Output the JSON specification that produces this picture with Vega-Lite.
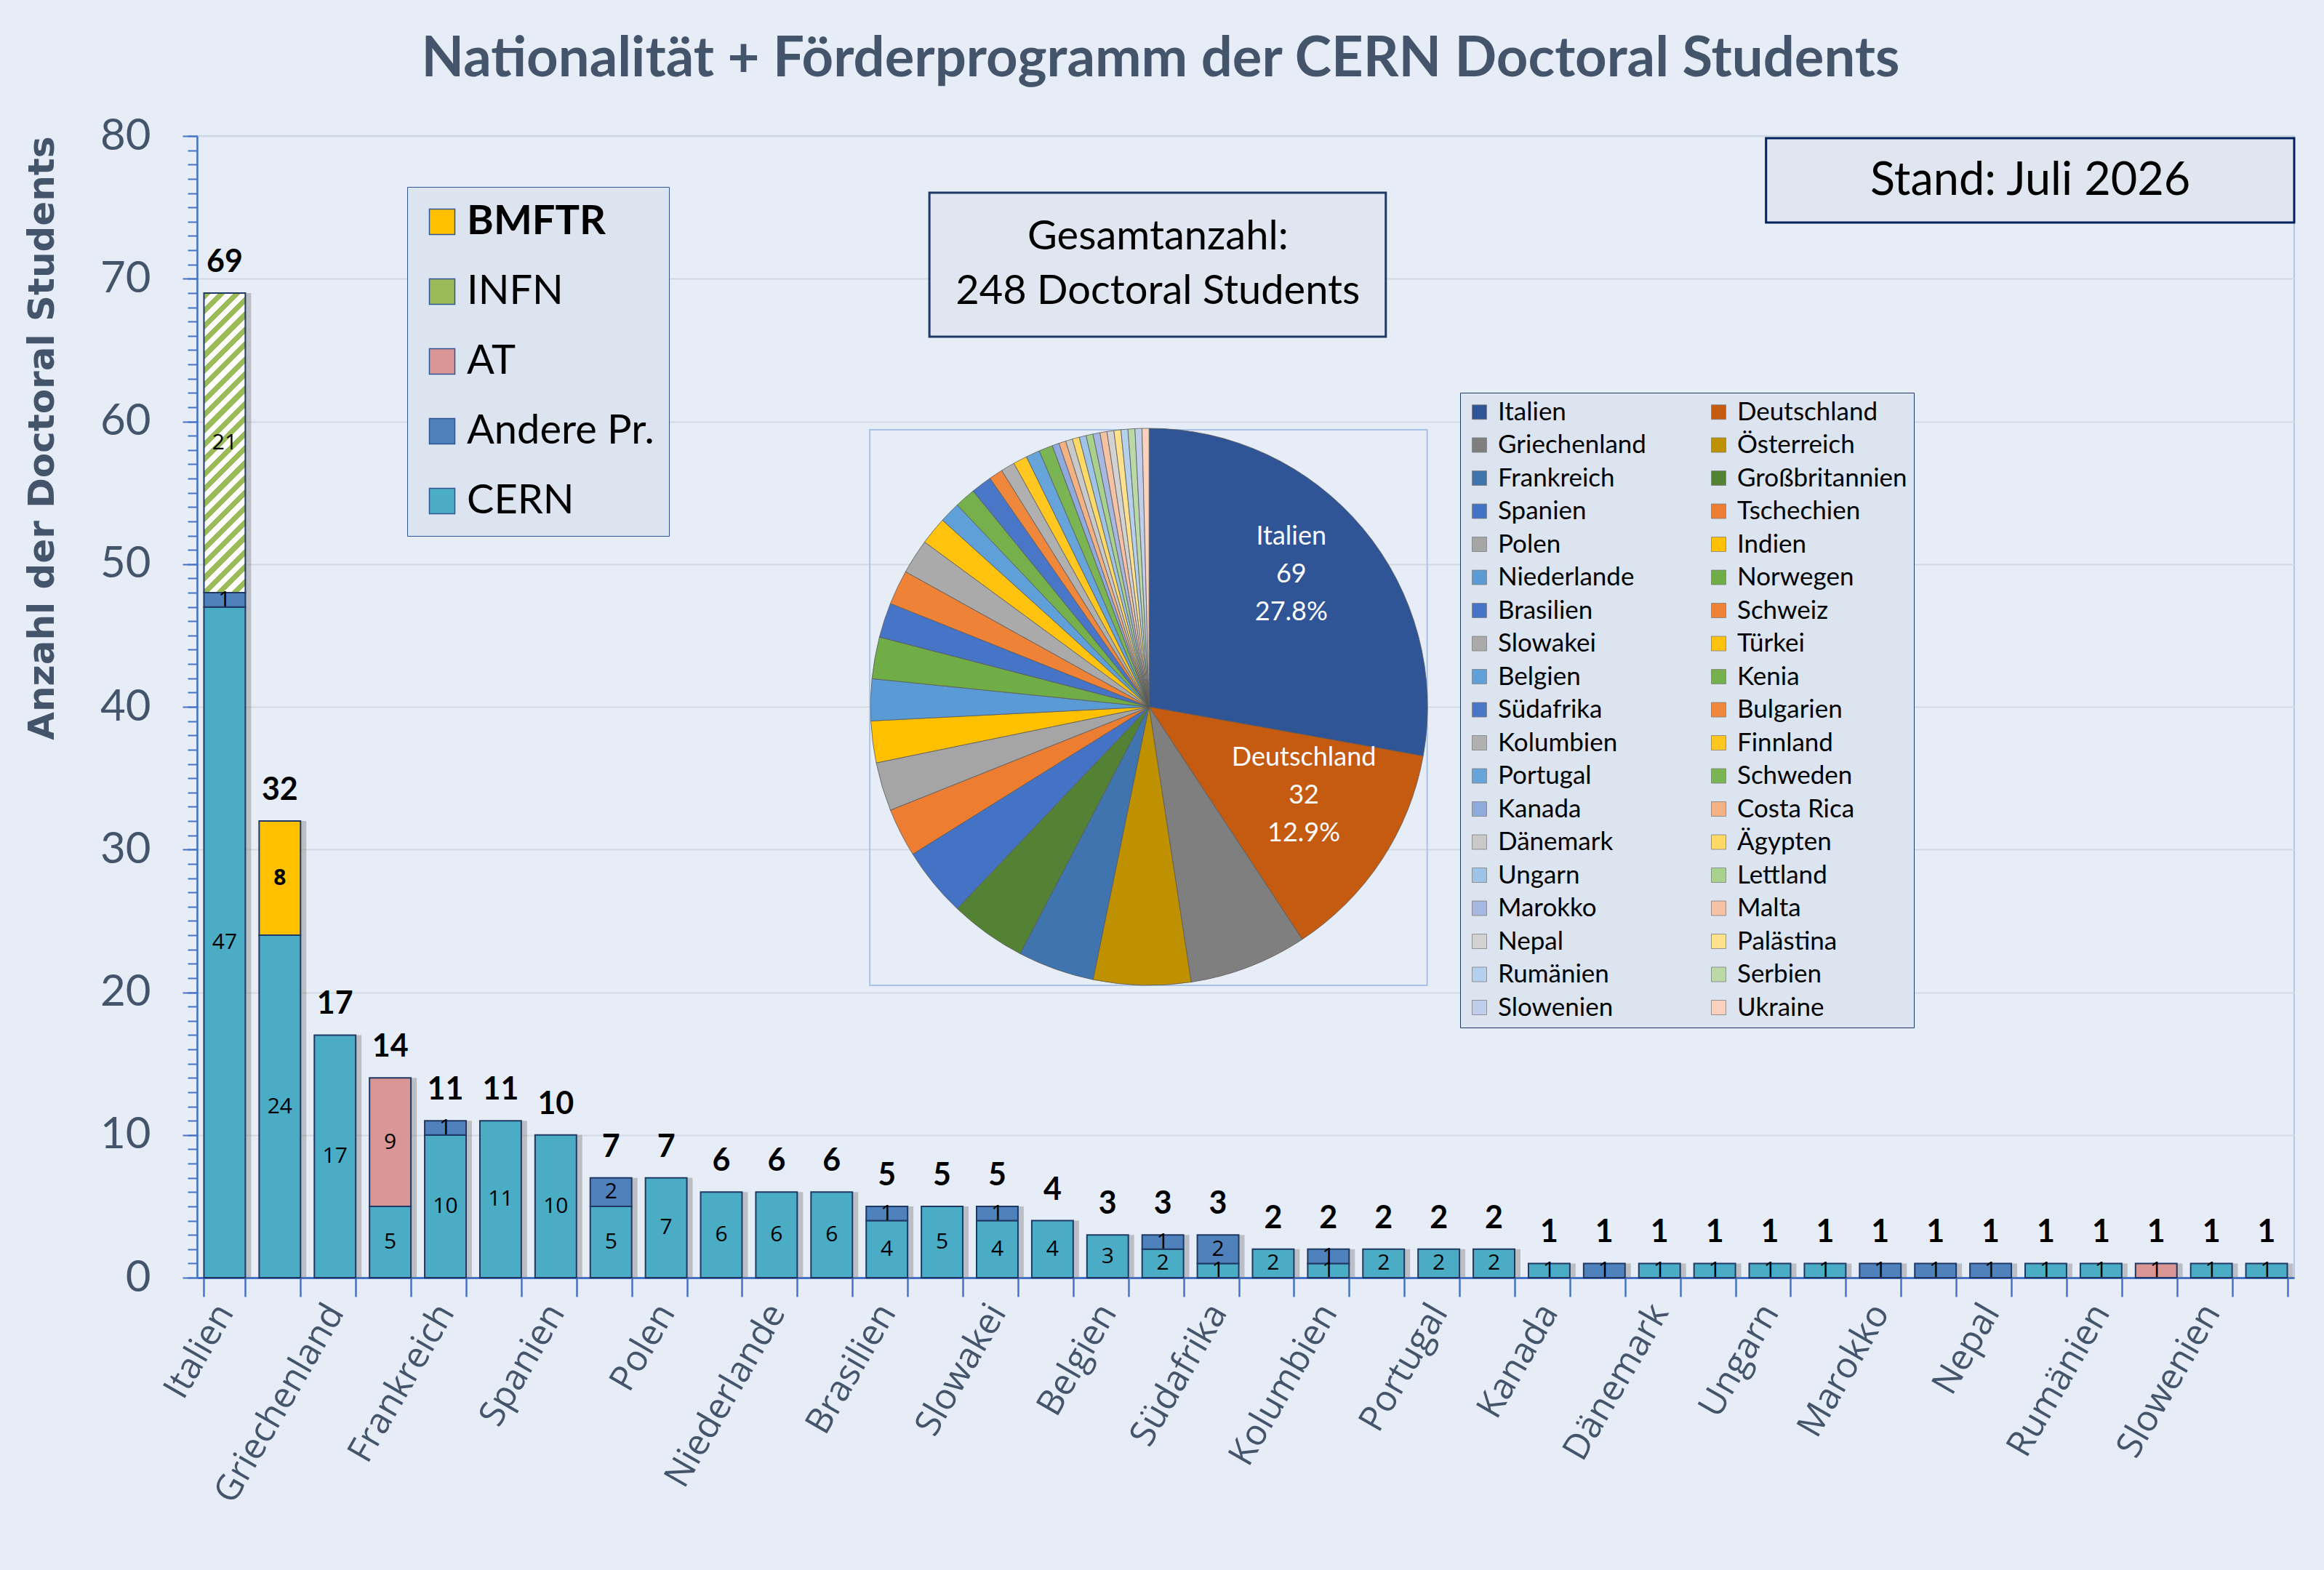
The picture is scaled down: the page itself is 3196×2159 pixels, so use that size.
{
  "$schema": "https://vega.github.io/schema/vega-lite/v6.json",
  "width": 2884,
  "height": 1570,
  "autosize": {"type": "none"},
  "padding": {"left": 271, "top": 187, "right": 41, "bottom": 402},
  "background": "#E7EDF7",
  "title": {
    "text": "Nationalität + Förderprogramm der CERN Doctoral Students",
    "font": "Lato",
    "fontSize": 76,
    "fontWeight": "bold",
    "color": "#44546A",
    "anchor": "middle",
    "frame": "group",
    "dx": -117,
    "offset": 36
  },
  "data": {
    "values": [
      {"country": "Italien", "program": "CERN", "n": 47},
      {"country": "Italien", "program": "Andere Pr.", "n": 1},
      {"country": "Italien", "program": "INFN", "n": 21},
      {"country": "Deutschland", "program": "CERN", "n": 24},
      {"country": "Deutschland", "program": "BMFTR", "n": 8},
      {"country": "Griechenland", "program": "CERN", "n": 17},
      {"country": "Österreich", "program": "CERN", "n": 5},
      {"country": "Österreich", "program": "AT", "n": 9},
      {"country": "Frankreich", "program": "CERN", "n": 10},
      {"country": "Frankreich", "program": "Andere Pr.", "n": 1},
      {"country": "Großbritannien", "program": "CERN", "n": 11},
      {"country": "Spanien", "program": "CERN", "n": 10},
      {"country": "Tschechien", "program": "CERN", "n": 5},
      {"country": "Tschechien", "program": "Andere Pr.", "n": 2},
      {"country": "Polen", "program": "CERN", "n": 7},
      {"country": "Indien", "program": "CERN", "n": 6},
      {"country": "Niederlande", "program": "CERN", "n": 6},
      {"country": "Norwegen", "program": "CERN", "n": 6},
      {"country": "Brasilien", "program": "CERN", "n": 4},
      {"country": "Brasilien", "program": "Andere Pr.", "n": 1},
      {"country": "Schweiz", "program": "CERN", "n": 5},
      {"country": "Slowakei", "program": "CERN", "n": 4},
      {"country": "Slowakei", "program": "Andere Pr.", "n": 1},
      {"country": "Türkei", "program": "CERN", "n": 4},
      {"country": "Belgien", "program": "CERN", "n": 3},
      {"country": "Kenia", "program": "CERN", "n": 2},
      {"country": "Kenia", "program": "Andere Pr.", "n": 1},
      {"country": "Südafrika", "program": "CERN", "n": 1},
      {"country": "Südafrika", "program": "Andere Pr.", "n": 2},
      {"country": "Bulgarien", "program": "CERN", "n": 2},
      {"country": "Kolumbien", "program": "CERN", "n": 1},
      {"country": "Kolumbien", "program": "Andere Pr.", "n": 1},
      {"country": "Finnland", "program": "CERN", "n": 2},
      {"country": "Portugal", "program": "CERN", "n": 2},
      {"country": "Schweden", "program": "CERN", "n": 2},
      {"country": "Kanada", "program": "CERN", "n": 1},
      {"country": "Costa Rica", "program": "Andere Pr.", "n": 1},
      {"country": "Dänemark", "program": "CERN", "n": 1},
      {"country": "Ägypten", "program": "CERN", "n": 1},
      {"country": "Ungarn", "program": "CERN", "n": 1},
      {"country": "Lettland", "program": "CERN", "n": 1},
      {"country": "Marokko", "program": "Andere Pr.", "n": 1},
      {"country": "Malta", "program": "Andere Pr.", "n": 1},
      {"country": "Nepal", "program": "Andere Pr.", "n": 1},
      {"country": "Palästina", "program": "CERN", "n": 1},
      {"country": "Rumänien", "program": "CERN", "n": 1},
      {"country": "Serbien", "program": "AT", "n": 1},
      {"country": "Slowenien", "program": "CERN", "n": 1},
      {"country": "Ukraine", "program": "CERN", "n": 1}
    ]
  },
  "layer": [
    {
      "transform": [
        {"calculate": "indexof(['CERN','Andere Pr.','AT','INFN','BMFTR'], datum.program)", "as": "rank"},
        {"stack": "n", "groupby": ["country"], "sort": [{"field": "rank"}], "as": ["y0", "y1"]},
        {"calculate": "(datum.y0 + datum.y1) / 2", "as": "ym"},
        {"joinaggregate": [{"op": "sum", "field": "n", "as": "total"}], "groupby": ["country"]}
      ],
      "encoding": {
        "x": {
          "field": "country",
          "type": "nominal",
          "sort": null,
          "scale": {
            "domain": ["Italien","Deutschland","Griechenland","Österreich","Frankreich","Großbritannien","Spanien","Tschechien","Polen","Indien","Niederlande","Norwegen","Brasilien","Schweiz","Slowakei","Türkei","Belgien","Kenia","Südafrika","Bulgarien","Kolumbien","Finnland","Portugal","Schweden","Kanada","Costa Rica","Dänemark","Ägypten","Ungarn","Lettland","Marokko","Malta","Nepal","Palästina","Rumänien","Serbien","Slowenien","Ukraine"],
            "paddingInner": 0.25,
            "paddingOuter": 0.125
          },
          "axis": {
            "title": null,
            "labelAngle": -60,
            "labelFont": "Open Sans",
            "labelFontSize": 49,
            "labelColor": "#44546A",
            "labelPadding": 14,
            "labelOverlap": false,
            "labelLimit": 600,
            "labelExpr": "round(datum.index * 37) % 2 === 0 ? datum.label : ''",
            "tickBand": "extent",
            "tickSize": 26,
            "tickColor": "#4472C4",
            "tickWidth": 2.5,
            "domainColor": "#4472C4",
            "domainWidth": 3,
            "grid": false
          }
        }
      },
      "layer": [
        {
          "mark": {"type": "bar", "color": "#7A7A7A", "opacity": 0.4, "xOffset": 8},
          "encoding": {
            "y": {
              "field": "y0",
              "type": "quantitative",
              "scale": {"domain": [0, 80], "nice": false},
              "axis": {
                "orient": "left",
                "title": null,
                "values": [0,1,2,3,4,5,6,7,8,9,10,11,12,13,14,15,16,17,18,19,20,21,22,23,24,25,26,27,28,29,30,31,32,33,34,35,36,37,38,39,40,41,42,43,44,45,46,47,48,49,50,51,52,53,54,55,56,57,58,59,60,61,62,63,64,65,66,67,68,69,70,71,72,73,74,75,76,77,78,79,80],
                "labels": false,
                "grid": false,
                "domain": false,
                "tickSize": 13,
                "tickColor": "#4472C4",
                "tickWidth": 2
              }
            },
            "y2": {"field": "y1"}
          }
        },
        {
          "mark": {"type": "bar", "stroke": "#1F3864", "strokeWidth": 2},
          "encoding": {
            "y": {
              "field": "y0",
              "type": "quantitative",
              "scale": {"domain": [0, 80], "nice": false},
              "axis": {
                "orient": "left",
                "title": "Anzahl der Doctoral Students",
                "titleFont": "DejaVu Sans",
                "titleFontSize": 50,
                "titleFontWeight": "bold",
                "titleColor": "#44546A",
                "titleAnchor": "end",
                "titlePadding": 54,
                "values": [0, 10, 20, 30, 40, 50, 60, 70, 80],
                "labelFont": "Lato",
                "labelFontSize": 60,
                "labelColor": "#44546A",
                "labelPadding": 44,
                "tickSize": 20,
                "tickColor": "#4472C4",
                "tickWidth": 2,
                "domainColor": "#4472C4",
                "domainWidth": 2.5,
                "grid": true,
                "gridColor": "#D3D9E2",
                "gridWidth": 2
              }
            },
            "y2": {"field": "y1"},
            "color": {
              "condition": {
                "test": "datum.program === 'INFN'",
                "value": {
                  "gradient": "linear",
                  "x1": 0, "y1": 0, "x2": 0.1542, "y2": 1.1168,
                  "stops": [
                    {"offset": 0, "color": "#9BBB59"}, {"offset": 0.0217, "color": "#9BBB59"}, {"offset": 0.0217, "color": "#FFFFFF"}, {"offset": 0.0435, "color": "#FFFFFF"},
                    {"offset": 0.0435, "color": "#9BBB59"}, {"offset": 0.0652, "color": "#9BBB59"}, {"offset": 0.0652, "color": "#FFFFFF"}, {"offset": 0.0870, "color": "#FFFFFF"},
                    {"offset": 0.0870, "color": "#9BBB59"}, {"offset": 0.1087, "color": "#9BBB59"}, {"offset": 0.1087, "color": "#FFFFFF"}, {"offset": 0.1304, "color": "#FFFFFF"},
                    {"offset": 0.1304, "color": "#9BBB59"}, {"offset": 0.1522, "color": "#9BBB59"}, {"offset": 0.1522, "color": "#FFFFFF"}, {"offset": 0.1739, "color": "#FFFFFF"},
                    {"offset": 0.1739, "color": "#9BBB59"}, {"offset": 0.1957, "color": "#9BBB59"}, {"offset": 0.1957, "color": "#FFFFFF"}, {"offset": 0.2174, "color": "#FFFFFF"},
                    {"offset": 0.2174, "color": "#9BBB59"}, {"offset": 0.2391, "color": "#9BBB59"}, {"offset": 0.2391, "color": "#FFFFFF"}, {"offset": 0.2609, "color": "#FFFFFF"},
                    {"offset": 0.2609, "color": "#9BBB59"}, {"offset": 0.2826, "color": "#9BBB59"}, {"offset": 0.2826, "color": "#FFFFFF"}, {"offset": 0.3043, "color": "#FFFFFF"},
                    {"offset": 0.3043, "color": "#9BBB59"}, {"offset": 0.3261, "color": "#9BBB59"}, {"offset": 0.3261, "color": "#FFFFFF"}, {"offset": 0.3478, "color": "#FFFFFF"},
                    {"offset": 0.3478, "color": "#9BBB59"}, {"offset": 0.3696, "color": "#9BBB59"}, {"offset": 0.3696, "color": "#FFFFFF"}, {"offset": 0.3913, "color": "#FFFFFF"},
                    {"offset": 0.3913, "color": "#9BBB59"}, {"offset": 0.4130, "color": "#9BBB59"}, {"offset": 0.4130, "color": "#FFFFFF"}, {"offset": 0.4348, "color": "#FFFFFF"},
                    {"offset": 0.4348, "color": "#9BBB59"}, {"offset": 0.4565, "color": "#9BBB59"}, {"offset": 0.4565, "color": "#FFFFFF"}, {"offset": 0.4783, "color": "#FFFFFF"},
                    {"offset": 0.4783, "color": "#9BBB59"}, {"offset": 0.5000, "color": "#9BBB59"}, {"offset": 0.5000, "color": "#FFFFFF"}, {"offset": 0.5217, "color": "#FFFFFF"},
                    {"offset": 0.5217, "color": "#9BBB59"}, {"offset": 0.5435, "color": "#9BBB59"}, {"offset": 0.5435, "color": "#FFFFFF"}, {"offset": 0.5652, "color": "#FFFFFF"},
                    {"offset": 0.5652, "color": "#9BBB59"}, {"offset": 0.5870, "color": "#9BBB59"}, {"offset": 0.5870, "color": "#FFFFFF"}, {"offset": 0.6087, "color": "#FFFFFF"},
                    {"offset": 0.6087, "color": "#9BBB59"}, {"offset": 0.6304, "color": "#9BBB59"}, {"offset": 0.6304, "color": "#FFFFFF"}, {"offset": 0.6522, "color": "#FFFFFF"},
                    {"offset": 0.6522, "color": "#9BBB59"}, {"offset": 0.6739, "color": "#9BBB59"}, {"offset": 0.6739, "color": "#FFFFFF"}, {"offset": 0.6957, "color": "#FFFFFF"},
                    {"offset": 0.6957, "color": "#9BBB59"}, {"offset": 0.7174, "color": "#9BBB59"}, {"offset": 0.7174, "color": "#FFFFFF"}, {"offset": 0.7391, "color": "#FFFFFF"},
                    {"offset": 0.7391, "color": "#9BBB59"}, {"offset": 0.7609, "color": "#9BBB59"}, {"offset": 0.7609, "color": "#FFFFFF"}, {"offset": 0.7826, "color": "#FFFFFF"},
                    {"offset": 0.7826, "color": "#9BBB59"}, {"offset": 0.8043, "color": "#9BBB59"}, {"offset": 0.8043, "color": "#FFFFFF"}, {"offset": 0.8261, "color": "#FFFFFF"},
                    {"offset": 0.8261, "color": "#9BBB59"}, {"offset": 0.8478, "color": "#9BBB59"}, {"offset": 0.8478, "color": "#FFFFFF"}, {"offset": 0.8696, "color": "#FFFFFF"},
                    {"offset": 0.8696, "color": "#9BBB59"}, {"offset": 0.8913, "color": "#9BBB59"}, {"offset": 0.8913, "color": "#FFFFFF"}, {"offset": 0.9130, "color": "#FFFFFF"},
                    {"offset": 0.9130, "color": "#9BBB59"}, {"offset": 0.9348, "color": "#9BBB59"}, {"offset": 0.9348, "color": "#FFFFFF"}, {"offset": 0.9565, "color": "#FFFFFF"},
                    {"offset": 0.9565, "color": "#9BBB59"}, {"offset": 0.9783, "color": "#9BBB59"}, {"offset": 0.9783, "color": "#FFFFFF"}, {"offset": 1, "color": "#FFFFFF"}
                  ]
                }
              },
              "field": "program",
              "type": "nominal",
              "scale": {
                "domain": ["BMFTR", "INFN", "AT", "Andere Pr.", "CERN"],
                "range": ["#FFC000", "#9BBB59", "#D99694", "#4F81BD", "#4BACC6"]
              },
              "legend": {
                "title": null,
                "orient": "none",
                "legendX": 289,
                "legendY": 70,
                "symbolType": "square",
                "symbolSize": 1225,
                "symbolStrokeColor": "#2F5597",
                "symbolStrokeWidth": 1.5,
                "labelFont": "Lato",
                "labelFontSize": 56,
                "labelColor": "#000000",
                "labelOffset": 6,
                "labelLimit": 500,
                "rowPadding": 40,
                "padding": 20,
                "fillColor": "#DCE4EF",
                "strokeColor": "#2F5597",
                "encode": {
                  "labels": {
                    "update": {
                      "fontWeight": {"signal": "datum.value === 'BMFTR' ? 'bold' : 'normal'"}
                    }
                  }
                }
              }
            }
          }
        },
        {
          "mark": {
            "type": "text",
            "font": "Open Sans",
            "fontSize": 30,
            "color": "#000000",
            "fontWeight": {"expr": "datum.program === 'BMFTR' ? 'bold' : 'normal'"}
          },
          "encoding": {
            "y": {"field": "ym", "type": "quantitative", "axis": null},
            "text": {"field": "n", "type": "quantitative"}
          }
        },
        {
          "transform": [{"filter": "datum.y1 === datum.total"}],
          "mark": {"type": "text", "font": "Lato", "fontSize": 43, "fontWeight": "bold", "color": "#000000", "baseline": "middle", "dy": -42},
          "encoding": {
            "y": {"field": "total", "type": "quantitative", "axis": null},
            "text": {"field": "total", "type": "quantitative"}
          }
        }
      ],
      "resolve": {"axis": {"y": "independent"}}
    },
    {
      "layer": [
        {
          "data": {"values": [{}]},
          "mark": {"type": "rect", "fill": "transparent", "stroke": "#A9C3E6", "strokeWidth": 2},
          "encoding": {
            "x": {"datum": 12.19, "type": "quantitative", "scale": {"domain": [0, 38], "nice": false, "zero": false}, "axis": null},
            "x2": {"datum": 22.29},
            "y": {"datum": 59.41, "type": "quantitative", "scale": {"domain": [0, 80], "nice": false}, "axis": null},
            "y2": {"datum": 20.48}
          }
        },
        {
          "transform": [
            {"aggregate": [{"op": "sum", "field": "n", "as": "total"}], "groupby": ["country"]},
            {"window": [{"op": "row_number", "as": "ci"}]},
            {"joinaggregate": [{"op": "sum", "field": "total", "as": "all"}]},
            {"calculate": "datum.ci <= 2 ? [datum.country, '' + datum.total, format(datum.total / datum.all, '.1%')] : ''", "as": "lbl"}
          ],
          "encoding": {
            "theta": {"field": "total", "type": "quantitative", "stack": true},
            "order": {"field": "ci", "type": "quantitative"},
            "x": {"datum": 17.25, "type": "quantitative", "scale": {"domain": [0, 38], "nice": false, "zero": false}, "axis": null},
            "y": {"datum": 40, "type": "quantitative", "scale": {"domain": [0, 80], "nice": false}, "axis": null}
          },
          "layer": [
            {
              "mark": {"type": "arc", "outerRadius": 383, "stroke": "#595959", "strokeWidth": 0.8},
              "encoding": {
                "fill": {
                  "field": "country",
                  "type": "nominal",
                  "scale": {
                    "domain": ["Italien","Deutschland","Griechenland","Österreich","Frankreich","Großbritannien","Spanien","Tschechien","Polen","Indien","Niederlande","Norwegen","Brasilien","Schweiz","Slowakei","Türkei","Belgien","Kenia","Südafrika","Bulgarien","Kolumbien","Finnland","Portugal","Schweden","Kanada","Costa Rica","Dänemark","Ägypten","Ungarn","Lettland","Marokko","Malta","Nepal","Palästina","Rumänien","Serbien","Slowenien","Ukraine"],
                    "range": ["#2F5597","#C55A11","#7F7F7F","#BF9000","#3F74AE","#548235","#4472C4","#ED7D31","#A5A5A5","#FFC000","#5B9BD5","#70AD47","#4674C6","#EE8236","#AAAAAA","#FFC30F","#60A0D8","#75B04C","#4976C6","#EF873C","#B0B0B0","#FFC71F","#67A4DA","#7BB453","#8FAADC","#F4B183","#C9C9C9","#FFD966","#9DC3E6","#A9D18E","#A6B8E2","#F6C2A4","#D2D2D2","#FFE08C","#B4D0EC","#BBD9A6","#C0CEEC","#F8D2BE"]
                  },
                  "legend": {
                    "title": null,
                    "orient": "none",
                    "legendX": 1737,
                    "legendY": 353,
                    "columns": 2,
                    "direction": "horizontal",
                    "symbolLimit": 40,
                    "symbolType": "square",
                    "symbolSize": 400,
                    "symbolStrokeColor": "#7F7F7F",
                    "symbolStrokeWidth": 0.8,
                    "labelFont": "Lato",
                    "labelFontSize": 35,
                    "labelColor": "#000000",
                    "labelOffset": 8,
                    "labelLimit": 500,
                    "rowPadding": 9.5,
                    "columnPadding": 82,
                    "padding": 9,
                    "fillColor": "#DCE4EF",
                    "strokeColor": "#1F3864"
                  }
                }
              }
            },
            {
              "mark": {"type": "text", "radius": 255, "color": "#FFFFFF", "font": "Lato", "fontSize": 36, "lineHeight": 52, "baseline": "middle", "dy": -70},
              "encoding": {
                "detail": {"field": "country", "type": "nominal"},
                "text": {"field": "lbl"}
              }
            }
          ]
        },
        {
          "data": {"values": [{}]},
          "mark": {"type": "rect", "fill": "#DFE6EF", "stroke": "#1F3864", "strokeWidth": 3},
          "encoding": {
            "x": {"datum": 13.27, "type": "quantitative", "scale": {"domain": [0, 38], "nice": false, "zero": false}, "axis": null},
            "x2": {"datum": 21.54},
            "y": {"datum": 76.03, "type": "quantitative", "scale": {"domain": [0, 80], "nice": false}, "axis": null},
            "y2": {"datum": 65.94}
          }
        },
        {
          "data": {"values": [{}]},
          "mark": {"type": "text", "font": "Lato", "fontSize": 56, "color": "#000000", "lineHeight": 75, "baseline": "middle", "align": "center"},
          "encoding": {
            "x": {"datum": 17.41, "type": "quantitative", "scale": {"domain": [0, 38], "nice": false, "zero": false}, "axis": null},
            "y": {"datum": 72.92, "type": "quantitative", "scale": {"domain": [0, 80], "nice": false}, "axis": null},
            "text": {"value": ["Gesamtanzahl:", "248 Doctoral Students"]}
          }
        },
        {
          "data": {"values": [{}]},
          "mark": {"type": "rect", "fill": "#DFE6EF", "stroke": "#002060", "strokeWidth": 3},
          "encoding": {
            "x": {"datum": 28.43, "type": "quantitative", "scale": {"domain": [0, 38], "nice": false, "zero": false}, "axis": null},
            "x2": {"datum": 38},
            "y": {"datum": 79.85, "type": "quantitative", "scale": {"domain": [0, 80], "nice": false}, "axis": null},
            "y2": {"datum": 73.94}
          }
        },
        {
          "data": {"values": [{}]},
          "mark": {"type": "text", "font": "Lato", "fontSize": 63, "color": "#000000", "baseline": "middle", "align": "center"},
          "encoding": {
            "x": {"datum": 33.22, "type": "quantitative", "scale": {"domain": [0, 38], "nice": false, "zero": false}, "axis": null},
            "y": {"datum": 76.84, "type": "quantitative", "scale": {"domain": [0, 80], "nice": false}, "axis": null},
            "text": {"value": "Stand: Juli 2026"}
          }
        }
      ]
    }
  ],
  "resolve": {"scale": {"x": "independent", "y": "independent"}},
  "config": {
    "font": "Lato",
    "view": {"stroke": "#B4C7E7", "strokeWidth": 2}
  }
}
